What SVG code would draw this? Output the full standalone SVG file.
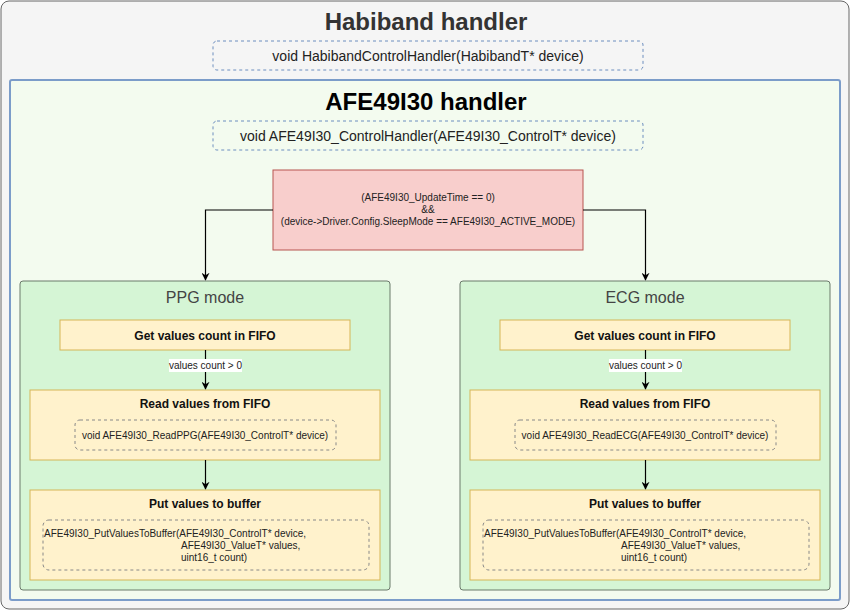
<svg xmlns="http://www.w3.org/2000/svg" width="851" height="611" viewBox="0 0 851 611">
<defs>
<marker id="arr" viewBox="0 0 10 10" refX="9" refY="5" markerWidth="8" markerHeight="8" markerUnits="userSpaceOnUse" orient="auto">
<path d="M0,0 L10,5 L0,10 L3,5 Z" fill="#000"/>
</marker>
</defs>
<style>
text{font-family:"Liberation Sans",Arial,sans-serif;}
.dash{fill:none;stroke:#6c8ebf;stroke-dasharray:3 3;stroke-width:1;}
.dashg{fill:none;stroke:#888;stroke-dasharray:3 3;stroke-width:1;}
.mode{fill:#d5f5d5;stroke:#6b7a6b;stroke-width:1;}
.step{fill:#fff2cc;stroke:#d6b656;stroke-width:1;}
.bt{font-size:12px;font-weight:bold;fill:#111;text-anchor:middle;}
.small{font-size:10px;fill:#222;}
.conn{fill:none;stroke:#000;stroke-width:1.2;marker-end:url(#arr);}
</style>
<g id="habiband">
<rect x="1" y="1" width="848" height="608" rx="8" fill="#f5f5f5" stroke="#666" stroke-width="1"/>
<text x="426" y="30" font-size="24" font-weight="bold" fill="#333" text-anchor="middle">Habiband handler</text>
<rect class="dash" x="213" y="41" width="430" height="29" rx="4"/>
<text x="428" y="61" font-size="14" fill="#222" text-anchor="middle">void HabibandControlHandler(HabibandT* device)</text>
</g>
<g id="afe">
<rect x="10" y="80" width="830" height="520" rx="2" fill="#f3fbef" stroke="#7b9cc9" stroke-width="2"/>
<text x="426" y="110" font-size="24" font-weight="bold" fill="#000" text-anchor="middle">AFE49I30 handler</text>
<rect class="dash" x="213" y="121" width="430" height="29" rx="4"/>
<text x="428" y="141" font-size="14" fill="#222" text-anchor="middle">void AFE49I30_ControlHandler(AFE49I30_ControlT* device)</text>
</g>
<g id="condition">
<rect x="273" y="170" width="310" height="80" fill="#f8cecc" stroke="#b85450" stroke-width="1"/>
<text class="small" text-anchor="middle" x="428" y="201">(AFE49I30_UpdateTime == 0)</text>
<text class="small" text-anchor="middle" x="428" y="213">&amp;&amp;</text>
<text class="small" text-anchor="middle" x="428" y="225">(device-&gt;Driver.Config.SleepMode == AFE49I30_ACTIVE_MODE)</text>
</g>
<g id="ppg">
<rect class="mode" x="20" y="281" width="370" height="309" rx="3"/>
<text x="205" y="303" font-size="16" fill="#444" text-anchor="middle">PPG mode</text>
</g>
<g id="ppg-get">
<rect class="step" x="60" y="320" width="290" height="30"/>
<text class="bt" x="205" y="340">Get values count in FIFO</text>
</g>
<g id="ppg-read">
<rect class="step" x="30" y="390" width="350" height="70"/>
<text class="bt" x="205" y="408">Read values from FIFO</text>
<rect class="dashg" x="75" y="420" width="261" height="30" rx="5"/>
<text class="small" x="205" y="439" text-anchor="middle">void AFE49I30_ReadPPG(AFE49I30_ControlT* device)</text>
</g>
<g id="ppg-put">
<rect class="step" x="30" y="490" width="350" height="90"/>
<text class="bt" x="205" y="508">Put values to buffer</text>
<rect class="dashg" x="43" y="520" width="326" height="50" rx="6"/>
<text class="small" x="44" y="537">AFE49I30_PutValuesToBuffer(AFE49I30_ControlT* device,</text>
<text class="small" x="181" y="549">AFE49I30_ValueT* values,</text>
<text class="small" x="181" y="561">uint16_t count)</text>
</g>
<g id="ecg">
<rect class="mode" x="460" y="281" width="370" height="309" rx="3"/>
<text x="645" y="303" font-size="16" fill="#444" text-anchor="middle">ECG mode</text>
</g>
<g id="ecg-get">
<rect class="step" x="500" y="320" width="290" height="30"/>
<text class="bt" x="645" y="340">Get values count in FIFO</text>
</g>
<g id="ecg-read">
<rect class="step" x="470" y="390" width="350" height="70"/>
<text class="bt" x="645" y="408">Read values from FIFO</text>
<rect class="dashg" x="515" y="420" width="261" height="30" rx="5"/>
<text class="small" x="645" y="439" text-anchor="middle">void AFE49I30_ReadECG(AFE49I30_ControlT* device)</text>
</g>
<g id="ecg-put">
<rect class="step" x="470" y="490" width="350" height="90"/>
<text class="bt" x="645" y="508">Put values to buffer</text>
<rect class="dashg" x="483" y="520" width="326" height="50" rx="6"/>
<text class="small" x="484" y="537">AFE49I30_PutValuesToBuffer(AFE49I30_ControlT* device,</text>
<text class="small" x="621" y="549">AFE49I30_ValueT* values,</text>
<text class="small" x="621" y="561">uint16_t count)</text>
</g>
<g id="connectors">
<path class="conn" d="M273,210 H205.5 V280"/>
<path class="conn" d="M583,210 H645.5 V280"/>
<path class="conn" d="M205.5,350 V389"/>
<path class="conn" d="M205.5,460 V489"/>
<path class="conn" d="M645.5,350 V389"/>
<path class="conn" d="M645.5,460 V489"/>
<rect x="169" y="359" width="73" height="13" fill="#fff"/>
<text class="small" x="205.5" y="369" text-anchor="middle">values count &gt; 0</text>
<rect x="609" y="359" width="73" height="13" fill="#fff"/>
<text class="small" x="645.5" y="369" text-anchor="middle">values count &gt; 0</text>
</g>
</svg>
